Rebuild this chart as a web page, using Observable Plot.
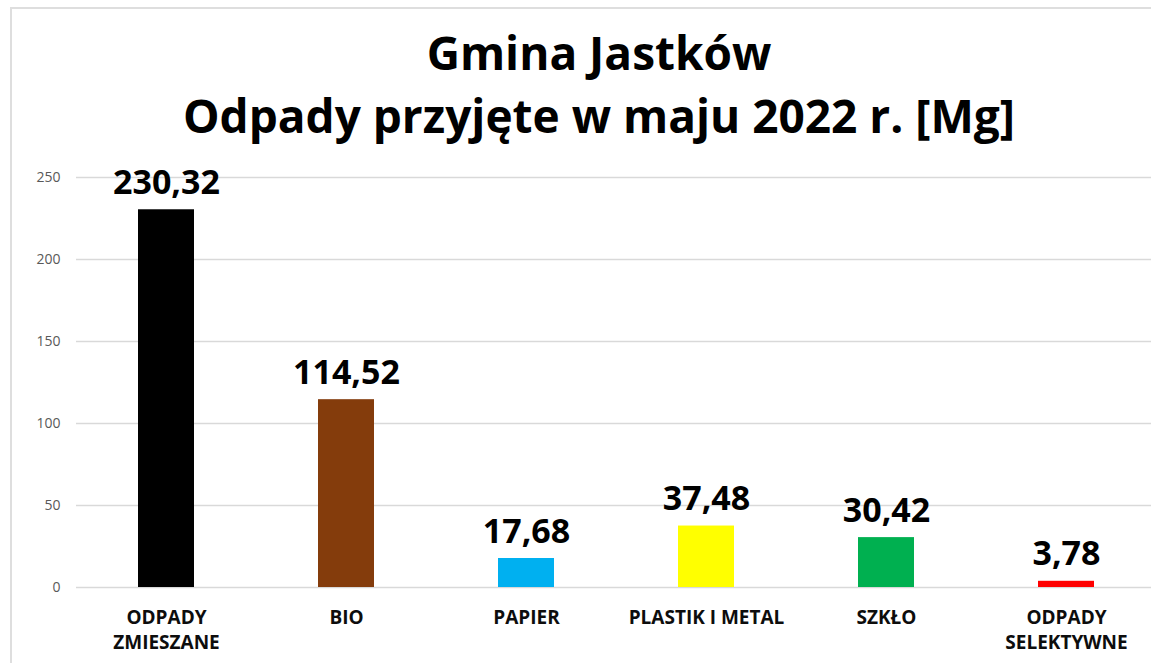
<!DOCTYPE html>
<html>
<head>
<meta charset="utf-8">
<script src="https://cdn.jsdelivr.net/npm/d3@7"></script>
<script src="https://cdn.jsdelivr.net/npm/@observablehq/plot@0.6"></script>
<style>
  html, body { margin: 0; padding: 0; background: #fff; overflow: hidden; width: 1151px; height: 663px; }
  body { position: relative; font-family: "Open Sans", sans-serif; }
  #frame { position: absolute; left: 10px; top: 7px; width: 2000px; height: 2000px; border: 2px solid #dedede; box-sizing: border-box; }
  #title { position: absolute; left: 0; top: 21px; width: 1198px; text-align: center; font-weight: bold; color: #000; font-size: 46px; line-height: 63px; }
  #chart { position: absolute; left: 0; top: 160px; }
</style>
</head>
<body>
<div id="frame"></div>
<div id="title">Gmina Jastków<br>Odpady przyjęte w maju 2022 r. [Mg]</div>
<div id="chart"></div>
<script>
const categories = ["ODPADY\nZMIESZANE", "BIO", "PAPIER", "PLASTIK I METAL", "SZKŁO", "ODPADY\nSELEKTYWNE"];
const values = [230.32, 114.52, 17.68, 37.48, 30.42, 3.78];
const colors = ["#000000", "#843C0C", "#00B0F0", "#FFFF00", "#00B050", "#FF0000"];
const yTicks = [0, 50, 100, 150, 200, 250];

const data = categories.map((c, i) => ({category: c, value: values[i], color: colors[i]}));
const fmt = v => v.toFixed(2).replace(".", ",");

const plot = Plot.plot({
  width: 1151,
  height: 503,
  marginLeft: 76,
  marginRight: 0,
  marginTop: 17,
  marginBottom: 76,
  style: {fontFamily: "'Open Sans', sans-serif", background: "transparent", overflow: "visible"},
  x: {domain: categories, range: [76, 1156], paddingInner: 0.69, paddingOuter: 0.345, align: 0.5},
  y: {domain: [0, 250]},
  marks: [
    Plot.gridY(yTicks, {stroke: "#d9d9d9", strokeOpacity: 1, strokeWidth: 1.3}),
    Plot.axisY(yTicks, {tickSize: 0, tickPadding: 16, fontSize: 14, color: "#595959", label: null}),
    Plot.barY(data, {x: "category", y: "value", fill: "color"}),
    Plot.text(data, {x: "category", y: "value", text: d => fmt(d.value), dy: -16, lineAnchor: "bottom", fontSize: 34, fontWeight: "bold", fill: "#000"}),
    Plot.axisX({tickSize: 0, tickPadding: 19, fontSize: 19, fontWeight: "bold", lineHeight: 1.3, color: "#0d0d0d", label: null})
  ]
});
document.getElementById("chart").appendChild(plot);
</script>
</body>
</html>
